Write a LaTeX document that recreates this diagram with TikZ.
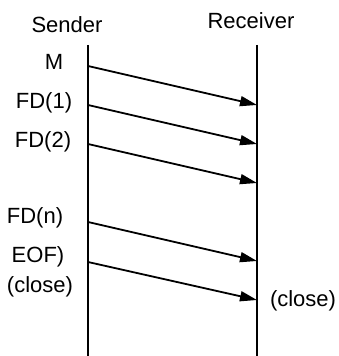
\documentclass[tikz,border=0pt]{standalone}
\usepackage{fontspec}
\setmainfont{Liberation Sans}
\usetikzlibrary{arrows.meta,positioning}

\begin{document}
\begin{tikzpicture}[x=0.5pt,y=-0.5pt,
    life/.style={line width=1pt},
    msg/.style={line width=0.9pt,-{Triangle[length=8.5pt,width=5pt]}},
    lbl/.style={inner sep=0pt,font=\fontsize{11}{13}\selectfont}]
    \useasboundingbox (0,0) rectangle (338,356);
    % x of the two lifelines
    \def\sx{88}
    \def\rx{257}
    % Lifelines
    \coordinate (sTop) at (\sx,45);
    \coordinate (sBot) at (\sx,356);
    \coordinate (rTop) at (\rx,45);
    \coordinate (rBot) at (\rx,356);
    \draw[life] (sTop) -- (sBot);
    \draw[life] (rTop) -- (rBot);
    % Headings
    \node[lbl] (sender) at (67,25) {Sender};
    \node[lbl] (receiver) at (251,21) {Receiver};
    % Messages: name / y at sender / y at receiver
    \foreach \name/\ys/\yr in {m/66/105, fdA/105/144, fdB/144/183, fdN/222/261, eof/262/300} {
        \coordinate (s-\name) at (\sx,\ys);
        \coordinate (r-\name) at (\rx,\yr);
        \draw[msg] (s-\name) -- (r-\name);
    }
    % Labels
    \node[lbl] (mLbl) at (54,62) {M};
    \node[lbl] (fdALbl) at (44,103) {FD(1)};
    \node[lbl] (fdBLbl) at (43,142) {FD(2)};
    \node[lbl] (fdNLbl) at (35,218) {FD(n)};
    \node[lbl] (eofLbl) at (38,257) {EOF)};
    \node[lbl] (sClose) at (40,287) {(close)};
    \node[lbl] (rClose) at (303,301) {(close)};
\end{tikzpicture}
\end{document}
